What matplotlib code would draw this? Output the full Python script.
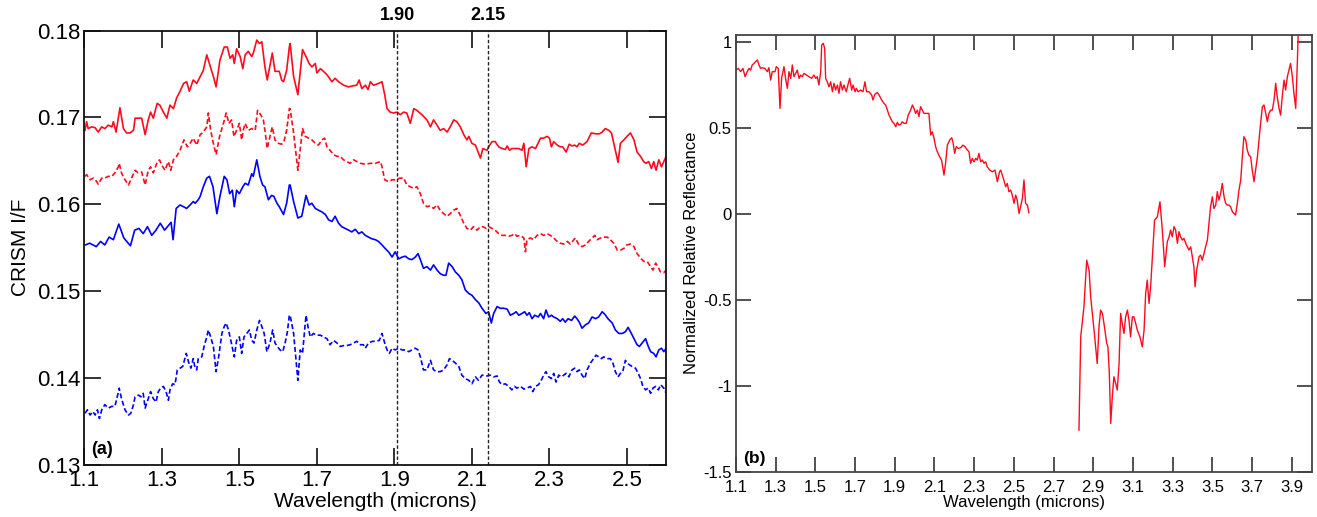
import numpy as np
import matplotlib
matplotlib.use("Agg")
import matplotlib.pyplot as plt

plt.rcParams['font.family'] = ['Liberation Sans', 'DejaVu Sans']

# ---------------- Panel (a) data: (wavelength [microns], CRISM I/F) ----------------
red_solid = [
(1.102,0.1685),(1.106,0.1695),(1.110,0.1687),(1.119,0.1689),(1.128,0.1688),(1.136,0.1683),(1.145,0.1689),(1.153,0.1687),
(1.162,0.1691),(1.171,0.1689),(1.175,0.1695),(1.182,0.1683),(1.192,0.1711),(1.201,0.1687),(1.209,0.1682),(1.218,0.1682),
(1.227,0.1685),(1.231,0.1699),(1.239,0.1699),(1.248,0.1699),(1.257,0.1680),(1.265,0.1697),(1.271,0.1706),(1.278,0.1699),
(1.288,0.1716),(1.295,0.1714),(1.304,0.1706),(1.313,0.1699),(1.321,0.1714),(1.330,0.1710),(1.338,0.1722),(1.347,0.1730),
(1.356,0.1739),(1.364,0.1741),(1.371,0.1730),(1.381,0.1743),(1.390,0.1739),(1.399,0.1747),(1.407,0.1754),(1.416,0.1772),
(1.424,0.1760),(1.433,0.1747),(1.440,0.1735),(1.450,0.1766),(1.461,0.1781),(1.469,0.1781),(1.476,0.1768),(1.483,0.1772),
(1.487,0.1762),(1.493,0.1779),(1.502,0.1770),(1.509,0.1756),(1.515,0.1772),(1.523,0.1776),(1.532,0.1770),(1.536,0.1774),
(1.545,0.1789),(1.552,0.1785),(1.558,0.1787),(1.566,0.1758),(1.572,0.1743),(1.579,0.1760),(1.585,0.1774),(1.592,0.1753),
(1.603,0.1753),(1.609,0.1743),(1.614,0.1741),(1.622,0.1754),(1.629,0.1781),
(1.631,0.1785),(1.640,0.1747),(1.651,0.1726),(1.663,0.1778),(1.672,0.1770),(1.680,0.1762),(1.687,0.1758),(1.696,0.1762),
(1.700,0.1751),(1.709,0.1756),(1.717,0.1753),(1.726,0.1749),(1.739,0.1741),(1.747,0.1745),(1.756,0.1741),(1.769,0.1737),
(1.782,0.1735),(1.790,0.1736),(1.803,0.1737),(1.809,0.1743),(1.816,0.1733),(1.825,0.1737),(1.832,0.1732),(1.838,0.1741),
(1.846,0.1737),(1.859,0.1739),(1.868,0.1741),(1.875,0.1726),(1.881,0.1710),(1.889,0.1706),(1.898,0.1705),(1.907,0.1706),
(1.915,0.1703),(1.924,0.1706),(1.932,0.1705),(1.941,0.1693),(1.950,0.1710),(1.958,0.1708),(1.971,0.1703),(1.984,0.1697),
(1.993,0.1689),(2.001,0.1697),(2.010,0.1691),(2.018,0.1685),(2.027,0.1687),(2.036,0.1683),(2.044,0.1689),(2.053,0.1697),
(2.061,0.1695),(2.070,0.1689),(2.079,0.1680),(2.087,0.1674),(2.092,0.1678),(2.100,0.1670),(2.109,0.1668),(2.122,0.1653),
(2.128,0.1664),(2.139,0.1662),(2.143,0.1666),(2.152,0.1672),(2.160,0.1672),(2.169,0.1666),(2.178,0.1664),(2.186,0.1663),
(2.191,0.1667),(2.197,0.1662),(2.203,0.1664),(2.212,0.1664),(2.221,0.1664),(2.229,0.1662),(2.234,0.1670),(2.240,0.1643),
(2.247,0.1664),(2.255,0.1666),(2.264,0.1664),(2.277,0.1676),(2.285,0.1676),(2.294,0.1678),(2.300,0.1676),(2.305,0.1666),
(2.311,0.1672),(2.320,0.1668),(2.328,0.1666),(2.334,0.1666),(2.343,0.1660),(2.351,0.1669),(2.358,0.1667),(2.365,0.1668),
(2.371,0.1666),(2.377,0.1670),(2.386,0.1668),(2.397,0.1672),(2.408,0.1682),(2.419,0.1681),(2.429,0.1681),(2.436,0.1683),
(2.444,0.1687),(2.453,0.1685),(2.460,0.1682),(2.466,0.1670),(2.477,0.1648),(2.483,0.1670),(2.492,0.1674),(2.500,0.1678),
(2.509,0.1682),(2.518,0.1674),(2.526,0.1660),(2.535,0.1655),(2.543,0.1649),(2.549,0.1647),(2.556,0.1649),(2.563,0.1641),
(2.569,0.1649),(2.575,0.1639),(2.582,0.1651),(2.589,0.1643),(2.595,0.1649),(2.601,0.1655)]

red_dashed = [
(1.102,0.1632),(1.106,0.1634),(1.115,0.1628),(1.124,0.1630),(1.132,0.1626),(1.136,0.1623),(1.145,0.1630),(1.153,0.1630),
(1.162,0.1632),(1.171,0.1632),(1.179,0.1636),(1.188,0.1643),(1.190,0.1647),(1.196,0.1636),(1.205,0.1628),(1.214,0.1622),
(1.222,0.1630),(1.231,0.1639),(1.239,0.1636),(1.248,0.1637),(1.257,0.1622),(1.265,0.1639),(1.271,0.1643),(1.278,0.1636),
(1.287,0.1647),(1.294,0.1651),(1.300,0.1645),(1.308,0.1639),(1.317,0.1649),(1.323,0.1639),(1.330,0.1651),(1.338,0.1655),
(1.347,0.1662),(1.357,0.1674),(1.366,0.1666),(1.373,0.1670),(1.381,0.1676),(1.390,0.1668),(1.399,0.1680),(1.407,0.1683),
(1.416,0.1689),(1.420,0.1705),(1.426,0.1685),(1.433,0.1670),(1.440,0.1657),(1.449,0.1678),(1.459,0.1693),(1.466,0.1705),
(1.473,0.1693),(1.480,0.1697),(1.486,0.1678),(1.493,0.1685),(1.500,0.1693),(1.506,0.1674),(1.510,0.1685),(1.515,0.1693),
(1.523,0.1685),(1.532,0.1687),(1.541,0.1685),(1.547,0.1708),(1.555,0.1703),(1.562,0.1697),(1.566,0.1685),(1.572,0.1664),
(1.579,0.1678),(1.585,0.1689),(1.592,0.1674),(1.601,0.1670),(1.609,0.1669),(1.615,0.1672),(1.622,0.1685),(1.629,0.1710),
(1.631,0.1710),(1.640,0.1682),(1.651,0.1639),(1.663,0.1687),(1.670,0.1678),(1.679,0.1676),(1.687,0.1674),(1.696,0.1670),
(1.704,0.1668),(1.713,0.1674),(1.720,0.1676),(1.726,0.1666),(1.734,0.1662),(1.743,0.1657),(1.752,0.1655),(1.760,0.1655),
(1.769,0.1651),(1.777,0.1649),(1.786,0.1647),(1.795,0.1651),(1.803,0.1649),(1.812,0.1647),(1.825,0.1646),(1.838,0.1647),
(1.851,0.1647),(1.864,0.1649),(1.868,0.1643),(1.875,0.1628),(1.885,0.1626),(1.894,0.1628),(1.902,0.1628),(1.915,0.1630),
(1.924,0.1630),(1.932,0.1622),(1.941,0.1620),(1.950,0.1618),(1.958,0.1620),(1.967,0.1612),(1.975,0.1601),(1.984,0.1597),
(1.993,0.1598),(2.001,0.1595),(2.010,0.1599),(2.018,0.1593),(2.027,0.1589),(2.036,0.1586),(2.044,0.1589),(2.053,0.1593),
(2.061,0.1595),(2.070,0.1587),(2.079,0.1578),(2.087,0.1572),(2.096,0.1570),(2.104,0.1574),(2.113,0.1570),(2.122,0.1574),
(2.128,0.1574),(2.137,0.1572),(2.143,0.1574),(2.152,0.1572),(2.160,0.1570),(2.169,0.1566),(2.178,0.1564),(2.186,0.1564),
(2.195,0.1563),(2.203,0.1564),(2.210,0.1566),(2.216,0.1563),(2.225,0.1564),(2.234,0.1561),(2.238,0.1545),(2.242,0.1559),
(2.251,0.1561),(2.259,0.1559),(2.268,0.1564),(2.277,0.1566),(2.285,0.1564),(2.294,0.1566),(2.302,0.1564),(2.311,0.1561),
(2.320,0.1557),(2.328,0.1555),(2.337,0.1554),(2.346,0.1557),(2.354,0.1554),(2.363,0.1559),(2.367,0.1561),(2.376,0.1553),
(2.384,0.1551),(2.393,0.1553),(2.401,0.1557),(2.410,0.1561),(2.417,0.1564),(2.423,0.1559),(2.432,0.1561),(2.440,0.1562),
(2.449,0.1562),(2.457,0.1559),(2.466,0.1555),(2.475,0.1547),(2.483,0.1547),(2.492,0.1549),(2.500,0.1553),(2.509,0.1554),
(2.518,0.1551),(2.526,0.1543),(2.535,0.1538),(2.543,0.1534),(2.552,0.1534),(2.561,0.1528),(2.567,0.1524),(2.574,0.1532),
(2.580,0.1528),(2.586,0.1522),(2.595,0.1521),(2.601,0.1524)]

blue_solid = [
(1.103,0.1553),(1.114,0.1555),(1.131,0.1551),(1.142,0.1557),(1.153,0.1553),(1.164,0.1562),(1.175,0.1559),(1.189,0.1577),
(1.202,0.1561),(1.219,0.1552),(1.230,0.1570),(1.241,0.1572),(1.252,0.1566),(1.263,0.1574),(1.274,0.1564),(1.285,0.1570),
(1.296,0.1578),(1.307,0.1570),(1.324,0.1579),(1.329,0.1559),(1.337,0.1595),(1.347,0.1599),(1.356,0.1597),(1.364,0.1595),
(1.373,0.1599),(1.381,0.1603),(1.386,0.1601),(1.394,0.1605),(1.399,0.1609),(1.407,0.1620),(1.416,0.1630),(1.423,0.1632),
(1.432,0.1620),(1.442,0.1589),(1.450,0.1609),(1.461,0.1632),(1.468,0.1628),(1.475,0.1612),(1.482,0.1616),(1.487,0.1597),
(1.493,0.1616),(1.500,0.1612),(1.509,0.1620),(1.515,0.1624),(1.523,0.1622),(1.532,0.1635),(1.536,0.1632),(1.545,0.1651),
(1.553,0.1632),(1.560,0.1622),(1.566,0.1620),(1.575,0.1605),(1.583,0.1610),(1.589,0.1609),(1.597,0.1601),(1.603,0.1597),
(1.614,0.1588),(1.622,0.1601),(1.629,0.1622),
(1.631,0.1622),(1.640,0.1603),(1.651,0.1584),(1.661,0.1586),(1.672,0.1610),(1.680,0.1599),(1.687,0.1601),(1.696,0.1595),
(1.704,0.1593),(1.713,0.1591),(1.722,0.1588),(1.730,0.1582),(1.739,0.1580),(1.747,0.1586),(1.756,0.1578),(1.764,0.1574),
(1.773,0.1572),(1.782,0.1570),(1.790,0.1568),(1.799,0.1571),(1.808,0.1566),(1.816,0.1568),(1.825,0.1564),(1.833,0.1562),
(1.842,0.1560),(1.851,0.1559),(1.859,0.1557),(1.868,0.1553),(1.876,0.1549),(1.885,0.1545),(1.894,0.1539),(1.902,0.1545),
(1.911,0.1537),(1.920,0.1539),(1.928,0.1540),(1.937,0.1537),(1.945,0.1536),(1.954,0.1539),(1.961,0.1543),(1.967,0.1536),
(1.975,0.1526),(1.984,0.1528),(1.993,0.1524),(2.001,0.1530),(2.010,0.1524),(2.018,0.1520),(2.027,0.1518),(2.033,0.1518),
(2.040,0.1532),(2.049,0.1528),(2.057,0.1522),(2.066,0.1518),(2.074,0.1513),(2.083,0.1501),(2.092,0.1497),(2.100,0.1495),
(2.109,0.1490),
(2.118,0.1486),(2.126,0.1480),(2.136,0.1474),(2.143,0.1476),(2.150,0.1463),(2.156,0.1474),(2.165,0.1482),(2.173,0.1480),
(2.182,0.1480),(2.191,0.1479),(2.199,0.1472),(2.208,0.1474),(2.214,0.1476),(2.221,0.1472),(2.229,0.1474),(2.236,0.1476),
(2.242,0.1472),(2.248,0.1475),(2.255,0.1468),(2.262,0.1472),(2.271,0.1470),(2.277,0.1474),(2.285,0.1468),(2.291,0.1478),
(2.298,0.1470),(2.305,0.1472),(2.311,0.1470),(2.320,0.1468),(2.328,0.1465),(2.334,0.1468),(2.341,0.1464),(2.348,0.1468),
(2.357,0.1466),(2.365,0.1471),(2.371,0.1468),(2.377,0.1464),(2.384,0.1457),(2.393,0.1461),(2.401,0.1463),(2.410,0.1470),
(2.419,0.1468),(2.427,0.1470),(2.436,0.1476),(2.443,0.1473),(2.451,0.1468),(2.462,0.1463),(2.470,0.1455),(2.479,0.1451),
(2.488,0.1451),(2.496,0.1453),(2.503,0.1458),(2.509,0.1453),(2.518,0.1445),(2.526,0.1438),(2.532,0.1436),(2.539,0.1440),
(2.548,0.1445),(2.555,0.1436),(2.561,0.1430),(2.569,0.1428),(2.575,0.1424),(2.582,0.1432),(2.589,0.1434),(2.595,0.1430),
(2.601,0.1434)]

blue_dashed = [
(1.102,0.1359),(1.108,0.1363),(1.115,0.1357),(1.122,0.1361),(1.128,0.1357),(1.134,0.1363),(1.139,0.1353),(1.145,0.1363),
(1.153,0.1369),(1.162,0.1365),(1.171,0.1367),(1.179,0.1367),(1.185,0.1378),(1.190,0.1388),(1.196,0.1376),(1.205,0.1363),
(1.214,0.1357),(1.220,0.1359),(1.227,0.1369),(1.231,0.1378),(1.240,0.1380),(1.246,0.1378),(1.252,0.1382),(1.257,0.1365),
(1.265,0.1376),(1.271,0.1384),(1.278,0.1376),(1.285,0.1372),(1.291,0.1384),(1.297,0.1388),(1.304,0.1390),(1.311,0.1384),
(1.317,0.1374),(1.321,0.1386),(1.328,0.1393),(1.334,0.1392),(1.340,0.1409),(1.347,0.1411),(1.354,0.1413),(1.363,0.1428),
(1.369,0.1418),(1.375,0.1411),(1.381,0.1422),(1.386,0.1411),(1.390,0.1409),(1.394,0.1422),(1.403,0.1424),(1.409,0.1436),
(1.416,0.1447),(1.420,0.1455),(1.426,0.1447),(1.433,0.1436),(1.440,0.1407),(1.446,0.1422),(1.455,0.1451),(1.461,0.1459),
(1.466,0.1463),(1.472,0.1455),(1.478,0.1443),(1.487,0.1424),(1.493,0.1443),(1.500,0.1447),(1.506,0.1428),(1.512,0.1447),
(1.519,0.1451),(1.526,0.1455),(1.532,0.1443),(1.538,0.1440),(1.545,0.1455),(1.552,0.1466),(1.558,0.1459),(1.564,0.1451),
(1.571,0.1430),(1.579,0.1440),(1.586,0.1455),(1.592,0.1440),(1.598,0.1436),(1.605,0.1432),(1.612,0.1430),(1.618,0.1440),
(1.624,0.1453),(1.629,0.1472),
(1.631,0.1472),(1.640,0.1451),(1.651,0.1397),(1.657,0.1432),(1.663,0.1428),(1.672,0.1472),(1.677,0.1459),(1.683,0.1447),
(1.691,0.1451),(1.700,0.1449),(1.709,0.1449),(1.717,0.1447),(1.726,0.1445),(1.734,0.1438),(1.743,0.1443),(1.752,0.1440),
(1.760,0.1436),(1.769,0.1437),(1.777,0.1437),(1.786,0.1438),(1.795,0.1440),(1.803,0.1442),(1.812,0.1438),(1.820,0.1438),
(1.825,0.1434),(1.833,0.1440),(1.844,0.1442),(1.852,0.1442),(1.861,0.1443),(1.868,0.1451),(1.875,0.1440),(1.881,0.1432),
(1.887,0.1428),(1.894,0.1434),(1.902,0.1432),(1.911,0.1434),(1.920,0.1432),(1.928,0.1432),(1.937,0.1430),(1.945,0.1432),
(1.954,0.1434),(1.961,0.1432),(1.967,0.1424),(1.975,0.1409),(1.984,0.1409),(1.993,0.1420),(2.001,0.1409),(2.010,0.1407),
(2.018,0.1407),(2.027,0.1409),(2.036,0.1415),(2.042,0.1422),(2.049,0.1420),(2.057,0.1417),(2.066,0.1413),(2.074,0.1403),
(2.083,0.1399),(2.092,0.1397),(2.100,0.1393),(2.109,0.1401),(2.117,0.1397),
(2.126,0.1403),(2.139,0.1402),(2.147,0.1403),(2.156,0.1401),(2.165,0.1402),(2.171,0.1395),(2.178,0.1392),(2.186,0.1393),
(2.195,0.1390),(2.203,0.1386),(2.210,0.1390),(2.216,0.1388),(2.225,0.1390),(2.234,0.1387),(2.242,0.1388),(2.251,0.1390),
(2.257,0.1384),(2.264,0.1390),(2.272,0.1392),(2.281,0.1399),(2.285,0.1403),(2.291,0.1407),(2.298,0.1401),(2.305,0.1399),
(2.311,0.1405),(2.317,0.1395),(2.324,0.1403),(2.331,0.1401),(2.337,0.1403),(2.343,0.1405),(2.350,0.1401),(2.358,0.1409),
(2.365,0.1411),(2.371,0.1407),(2.377,0.1409),(2.384,0.1403),(2.391,0.1399),(2.397,0.1409),(2.406,0.1417),(2.414,0.1422),
(2.420,0.1426),(2.427,0.1424),(2.434,0.1422),(2.440,0.1424),(2.449,0.1422),(2.457,0.1422),(2.463,0.1418),(2.470,0.1407),
(2.477,0.1401),(2.483,0.1405),(2.489,0.1407),(2.496,0.1420),(2.500,0.1417),(2.506,0.1415),(2.513,0.1413),(2.522,0.1411),
(2.529,0.1405),(2.535,0.1399),(2.541,0.1390),(2.548,0.1386),(2.555,0.1388),(2.561,0.1382),(2.567,0.1388),(2.574,0.1390),
(2.581,0.1386),(2.587,0.1392),(2.595,0.1388),(2.601,0.1382)]

band_positions = [1.907, 2.141]
band_labels = ["1.90", "2.15"]
a_xticks = [1.1, 1.3, 1.5, 1.7, 1.9, 2.1, 2.3, 2.5]
a_xticklabels = ["1.1", "1.3", "1.5", "1.7", "1.9", "2.1", "2.3", "2.5"]
a_yticks = [0.13, 0.14, 0.15, 0.16, 0.17, 0.18]
a_yticklabels = ["0.13", "0.14", "0.15", "0.16", "0.17", "0.18"]

# ---------------- Panel (b) data: normalized relative reflectance ----------------
refl_short = [
(1.099,0.838),(1.112,0.848),(1.124,0.829),(1.135,0.848),(1.146,0.800),(1.157,0.829),(1.166,0.848),(1.174,0.838),
(1.182,0.868),(1.191,0.877),(1.199,0.887),(1.208,0.897),(1.216,0.868),(1.224,0.848),(1.233,0.852),(1.246,0.848),
(1.258,0.829),(1.266,0.852),(1.275,0.780),(1.283,0.829),(1.297,0.829),(1.303,0.858),(1.313,0.848),(1.322,0.615),
(1.330,0.790),(1.342,0.858),(1.350,0.790),(1.359,0.732),(1.367,0.829),(1.376,0.790),(1.384,0.868),(1.392,0.800),
(1.401,0.819),(1.409,0.838),(1.418,0.790),(1.426,0.809),(1.434,0.800),(1.443,0.819),(1.455,0.809),(1.468,0.800),
(1.481,0.790),(1.493,0.809),(1.502,0.790),(1.510,0.800),(1.518,0.751),(1.527,0.829),(1.532,0.984),(1.540,0.994),
(1.547,0.965),(1.552,0.790),(1.560,0.770),(1.569,0.741),(1.577,0.770),(1.586,0.712),(1.594,0.761),(1.602,0.722),
(1.611,0.751),(1.619,0.703),(1.627,0.770),(1.636,0.722),(1.644,0.751),(1.656,0.712),(1.666,0.761),(1.673,0.790),
(1.683,0.722),(1.690,0.751),(1.700,0.712),(1.706,0.732),(1.716,0.712),(1.728,0.722),(1.740,0.712),(1.750,0.770),
(1.758,0.712),(1.770,0.712),(1.784,0.693),(1.790,0.664),(1.800,0.697),(1.812,0.708),(1.821,0.693),(1.834,0.664),
(1.846,0.644),(1.854,0.635),(1.863,0.605),(1.871,0.576),(1.879,0.557),(1.888,0.537),(1.896,0.528),(1.905,0.508),
(1.913,0.534),(1.921,0.518),(1.930,0.522),(1.938,0.537),(1.947,0.528),(1.958,0.528),(1.968,0.576),(1.980,0.605),
(1.989,0.635),(1.997,0.615),(2.005,0.586),(2.014,0.605),(2.022,0.567),(2.030,0.625),(2.039,0.605),(2.047,0.586),
(2.056,0.586),(2.064,0.586),(2.072,0.586),(2.081,0.460),(2.089,0.479),(2.098,0.440),(2.106,0.392),(2.114,0.363),
(2.126,0.334),(2.136,0.314),(2.148,0.227),(2.156,0.295),(2.165,0.401),(2.177,0.431),(2.187,0.444),(2.193,0.421),
(2.202,0.353),(2.210,0.392),(2.220,0.382),(2.232,0.386),(2.244,0.401),(2.254,0.392),(2.266,0.372),(2.274,0.363),
(2.282,0.295),(2.291,0.324),(2.299,0.304),(2.308,0.324),(2.316,0.314),(2.324,0.353),(2.333,0.304),(2.341,0.314),
(2.350,0.295),(2.358,0.304),(2.366,0.275),(2.378,0.256),(2.392,0.246),(2.405,0.256),(2.417,0.188),(2.428,0.246),
(2.434,0.256),(2.447,0.207),(2.459,0.159),(2.467,0.178),(2.475,0.130),(2.484,0.139),(2.492,0.110),(2.501,0.062),
(2.509,0.110),(2.517,0.081),(2.526,0.003),(2.534,0.042),(2.543,0.091),(2.551,0.198),(2.559,0.062),(2.568,0.052),
(2.576,0.007)]

refl_long = [
(2.828,-1.259),(2.837,-0.715),(2.853,-0.541),(2.867,-0.269),(2.879,-0.327),(2.887,-0.482),(2.904,-0.677),(2.912,-0.774),
(2.920,-0.871),(2.929,-0.657),(2.937,-0.560),(2.946,-0.579),(2.954,-0.638),(2.968,-0.754),(2.974,-0.774),(2.981,-0.929),
(2.988,-1.220),(2.996,-1.065),(3.004,-0.948),(3.013,-0.987),(3.021,-1.026),(3.030,-0.871),(3.038,-0.579),(3.046,-0.638),
(3.055,-0.696),(3.063,-0.599),(3.072,-0.560),(3.080,-0.618),(3.088,-0.715),(3.097,-0.599),(3.105,-0.599),(3.114,-0.638),
(3.122,-0.677),(3.135,-0.715),(3.147,-0.774),(3.156,-0.677),(3.164,-0.463),(3.172,-0.385),(3.181,-0.521),(3.189,-0.424),
(3.198,-0.249),(3.209,-0.035),(3.223,-0.016),(3.236,0.071),(3.248,-0.094),(3.260,-0.307),(3.273,-0.162),(3.282,-0.133),
(3.290,-0.094),(3.298,-0.133),(3.307,-0.074),(3.315,-0.094),(3.324,-0.171),(3.332,-0.103),(3.340,-0.133),(3.349,-0.152),
(3.357,-0.142),(3.366,-0.171),(3.374,-0.191),(3.382,-0.210),(3.391,-0.191),(3.399,-0.249),(3.407,-0.307),(3.413,-0.424),
(3.421,-0.327),(3.433,-0.249),(3.441,-0.240),(3.449,-0.269),(3.458,-0.230),(3.466,-0.191),(3.475,-0.152),(3.483,-0.055),
(3.491,0.042),(3.500,0.100),(3.508,0.032),(3.517,0.052),(3.525,0.130),(3.533,0.081),(3.542,0.120),(3.550,0.178),
(3.559,0.100),(3.567,0.062),(3.575,0.052),(3.584,0.052),(3.592,0.042),(3.601,0.013),(3.617,-0.006),(3.626,0.062),
(3.634,0.139),(3.643,0.198),(3.651,0.333),(3.659,0.450),(3.668,0.431),(3.676,0.372),(3.684,0.343),(3.693,0.333),
(3.701,0.256),(3.710,0.188),(3.718,0.256),(3.727,0.333),(3.735,0.431),(3.743,0.528),(3.752,0.625),(3.760,0.635),
(3.769,0.586),(3.777,0.537),(3.785,0.586),(3.794,0.605),(3.802,0.605),(3.811,0.664),(3.819,0.761),(3.827,0.683),
(3.836,0.615),(3.844,0.576),(3.852,0.683),(3.861,0.780),(3.869,0.722),(3.878,0.800),(3.886,0.839),(3.894,0.877),
(3.903,0.800),(3.911,0.703),(3.920,0.615),(3.928,0.877),(3.933,1.072)]

b_xticks = [1.1, 1.3, 1.5, 1.7, 1.9, 2.1, 2.3, 2.5, 2.7, 2.9, 3.1, 3.3, 3.5, 3.7, 3.9]
b_xticklabels = ["1.1", "1.3", "1.5", "1.7", "1.9", "2.1", "2.3", "2.5", "2.7", "2.9", "3.1", "3.3", "3.5", "3.7", "3.9"]
b_yticks = [-1.5, -1.0, -0.5, 0.0, 0.5, 1.0]
b_yticklabels = ["-1.5", "-1", "-0.5", "0", "0.5", "1"]

RED = '#ff0a1e'
BLUE = '#0000ff'

fig = plt.figure(figsize=(13.17, 5.17), dpi=100)

# ---------------- Panel (a) ----------------
axa = fig.add_axes([0.0640, 0.1015, 0.4415, 0.8395])
for data, col, ls in [(red_solid, RED, '-'), (red_dashed, RED, (0, (3, 1.6))),
                      (blue_solid, BLUE, '-'), (blue_dashed, BLUE, (0, (3, 1.6)))]:
    arr = np.array(data)
    axa.plot(arr[:, 0], arr[:, 1], color=col, ls=ls, lw=1.2)
for xp, lab in zip(band_positions, band_labels):
    axa.axvline(xp, color='#222222', lw=1.0, ls=(0, (2.5, 1.5)))
    axa.text(xp, 0.1808, lab, ha='center', va='bottom', fontsize=13, fontweight='bold',
             transform=axa.transData, clip_on=False)
axa.set_xlim(1.1, 2.6)
axa.set_ylim(0.13, 0.18)
axa.set_xticks(a_xticks)
axa.set_xticklabels(a_xticklabels)
axa.set_yticks(a_yticks)
axa.set_yticklabels(a_yticklabels)
axa.tick_params(direction='in', length=12, width=1.2, top=True, right=True,
                labelsize=16, color='#111111')
axa.tick_params(axis='x', pad=4)
axa.tick_params(axis='y', pad=3)
for s in axa.spines.values():
    s.set_linewidth(1.3)
    s.set_color('#111111')
axa.set_xlabel('Wavelength (microns)', fontsize=15, labelpad=1)
axa.set_ylabel('CRISM I/F', fontsize=15, labelpad=5)
axa.text(0.012, 0.015, '(a)', transform=axa.transAxes, fontsize=13, fontweight='bold',
         ha='left', va='bottom')

# ---------------- Panel (b) ----------------
axb = fig.add_axes([0.5588, 0.0880, 0.4371, 0.8443])
s_arr = np.array(refl_short)
l_arr = np.array(refl_long)
axb.plot(s_arr[:, 0], s_arr[:, 1], color=RED, lw=1.0)
axb.plot(l_arr[:, 0], l_arr[:, 1], color=RED, lw=1.0)
axb.set_xlim(1.1, 4.0)
axb.set_ylim(-1.5, 1.0425)
axb.set_xticks(b_xticks)
axb.set_xticklabels(b_xticklabels)
axb.set_yticks(b_yticks)
axb.set_yticklabels(b_yticklabels)
axb.tick_params(direction='in', length=11, width=1.2, top=True, right=True,
                labelsize=12, color='#333333')
axb.tick_params(axis='x', pad=6)
axb.tick_params(axis='y', pad=3)
for s in axb.spines.values():
    s.set_linewidth(1.3)
    s.set_color('#444444')
axb.set_xlabel('Wavelength (microns)', fontsize=12, labelpad=0)
axb.set_ylabel('Normalized Relative Reflectance', fontsize=12, labelpad=3)
axb.text(0.012, 0.012, '(b)', transform=axb.transAxes, fontsize=12.5, fontweight='bold',
         ha='left', va='bottom')

fig.savefig('out.png', dpi=100)
